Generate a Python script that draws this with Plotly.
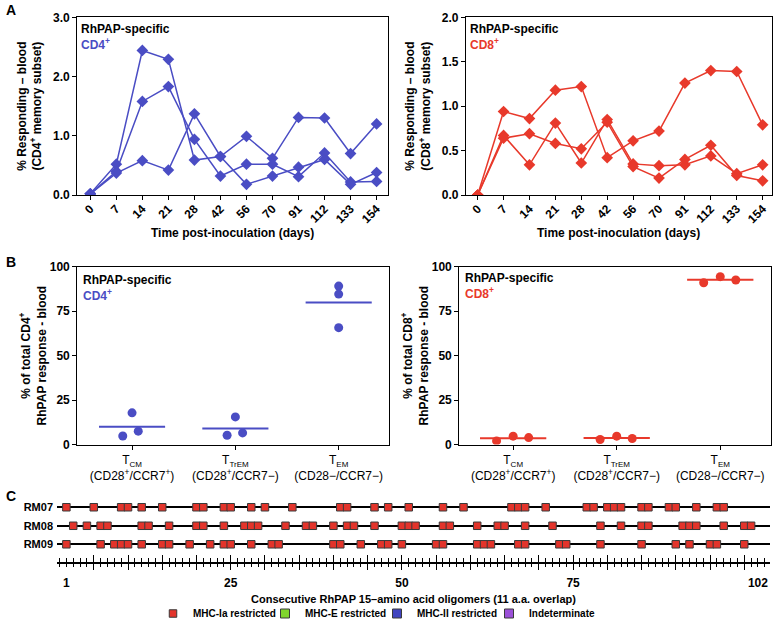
import plotly.graph_objects as go
import numpy as np

# ---------------- data ----------------
days = ["0", "7", "14", "21", "28", "42", "56", "70", "91", "112", "133", "154"]

cd4_s1 = [0.02, 0.52, 2.44, 2.29, 0.59, 0.65, 0.99, 0.62, 1.31, 1.30, 0.70, 1.20]
cd4_s2 = [0.02, 0.40, 1.58, 1.83, 0.94, 0.32, 0.52, 0.52, 0.31, 0.71, 0.22, 0.23]
cd4_s3 = [0.02, 0.37, 0.58, 0.42, 1.37, 0.65, 0.18, 0.32, 0.47, 0.60, 0.18, 0.38]

cd8_s1 = [0.0, 0.94, 0.86, 1.18, 1.22, 0.42, 0.61, 0.72, 1.26, 1.40, 1.39, 0.79]
cd8_s2 = [0.0, 0.67, 0.34, 0.81, 0.36, 0.85, 0.35, 0.33, 0.34, 0.44, 0.24, 0.34]
cd8_s3 = [0.0, 0.64, 0.69, 0.58, 0.52, 0.82, 0.32, 0.19, 0.40, 0.56, 0.22, 0.16]

SUB = "<sub><span style='font-size:8px'>%s</span></sub>"
subsets = ["T" + SUB % "CM" + "<br>(CD28<sup>+</sup>/CCR7<sup>+</sup>)",
           "T" + SUB % "TrEM" + "<br>(CD28<sup>+</sup>/CCR7−)",
           "T" + SUB % "EM" + "<br>(CD28−/CCR7−)"]
cd4_tcm = [17.8, 4.8, 7.5]
cd4_trem = [15.5, 5.2, 6.5]
cd4_tem = [89.1, 84.6, 65.7]
cd8_tcm = [2.0, 4.7, 3.9]
cd8_trem = [2.8, 4.7, 3.4]
cd8_tem = [91.0, 94.4, 92.5]

animals = ["RM07", "RM08", "RM09"]
rm07_peptides = [1, 5, 9, 10, 12, 15, 20, 21, 24, 25, 28, 30, 34, 41, 42, 46, 48, 51,
                 56, 59, 66, 67, 68, 71, 77, 78, 80, 81, 82, 85, 86, 89, 90, 93, 96, 97]
rm08_peptides = [2, 4, 6, 7, 12, 13, 16, 20, 21, 24, 27, 28, 29, 33, 36, 37, 40, 42, 43,
                 46, 50, 51, 52, 56, 57, 61, 64, 65, 68, 72, 79, 82, 85, 86, 91, 92, 93,
                 97, 100, 101]
rm09_peptides = [1, 6, 8, 9, 10, 12, 15, 16, 19, 22, 24, 25, 28, 31, 32, 40, 41, 44, 47,
                 48, 50, 55, 56, 61, 62, 63, 67, 68, 73, 74, 79, 85, 90, 92, 95, 96, 100]
n_peptides = 102
c_tick_labels = [1, 25, 50, 75, 102]
categories_c = ["MHC-Ia restricted", "MHC-E restricted", "MHC-II restricted", "Indeterminate"]

# ---------------- styles ----------------
BLUE = "#4a4dc4"
RED = "#e8392b"
FONT = "Liberation Sans, Arial, sans-serif"
W, H = 777, 622

def px_x(a, b):
    return [a / W, b / W]

def px_y(top, bottom):
    return [(H - bottom) / H, (H - top) / H]

fig = go.Figure()

# ---------------- panel A ----------------
xi = list(range(len(days)))
for s in (cd4_s1, cd4_s2, cd4_s3):
    fig.add_trace(go.Scatter(x=xi, y=s, mode="lines+markers", xaxis="x", yaxis="y",
                             line=dict(color=BLUE, width=1.5),
                             marker=dict(symbol="diamond", size=9, color=BLUE),
                             showlegend=False, hoverinfo="skip"))
for s in (cd8_s1, cd8_s2, cd8_s3):
    fig.add_trace(go.Scatter(x=xi, y=s, mode="lines+markers", xaxis="x2", yaxis="y2",
                             line=dict(color=RED, width=1.5),
                             marker=dict(symbol="diamond", size=9, color=RED),
                             showlegend=False, hoverinfo="skip"))

# ---------------- panel B ----------------
jit4 = [[0.0, -0.09, 0.06], [0.0, -0.08, 0.07], [0.0, 0.0, 0.0]]
jit8 = [[-0.16, 0.0, 0.15], [-0.16, 0.0, 0.15], [-0.16, 0.0, 0.15]]
half = 0.32

def add_b(groups, jit, color, xa, ya):
    xs, ys, lx, ly = [], [], [], []
    for i, g in enumerate(groups):
        for v, j in zip(g, jit[i]):
            xs.append(i + j)
            ys.append(v)
        m = float(np.mean(g))
        lx += [i - half, i + half, None]
        ly += [m, m, None]
    fig.add_trace(go.Scatter(x=lx, y=ly, mode="lines", xaxis=xa, yaxis=ya,
                             line=dict(color=color, width=2), showlegend=False, hoverinfo="skip"))
    fig.add_trace(go.Scatter(x=xs, y=ys, mode="markers", xaxis=xa, yaxis=ya,
                             marker=dict(color=color, size=9), showlegend=False, hoverinfo="skip"))

add_b([cd4_tcm, cd4_trem, cd4_tem], jit4, BLUE, "x3", "y3")
add_b([cd8_tcm, cd8_trem, cd8_tem], jit8, RED, "x4", "y4")

# ---------------- panel C ----------------
cx, cy = [], []
for k, pep in enumerate([rm07_peptides, rm08_peptides, rm09_peptides]):
    row = 3 - k
    cx += pep
    cy += [row] * len(pep)
c_colors = ["#e3342b", "#80d52c", "#4044c0", "#9b50d8"]
fig.add_trace(go.Scatter(x=cx, y=cy, mode="markers", xaxis="x5", yaxis="y5",
                         name=categories_c[0],
                         marker=dict(symbol="square", size=7.5, color=c_colors[0],
                                     line=dict(color="#3a3a3a", width=1)),
                         hoverinfo="skip"))
for name, col in zip(categories_c[1:], c_colors[1:]):
    fig.add_trace(go.Scatter(x=[None], y=[None], mode="markers", xaxis="x5", yaxis="y5",
                             name=name,
                             marker=dict(symbol="square", size=9, color=col,
                                         line=dict(color="#3a3a3a", width=1)),
                             hoverinfo="skip"))
for xa in ("x6", "x7"):
    fig.add_trace(go.Scatter(x=[None], y=[None], mode="markers", xaxis=xa, yaxis="y5",
                             showlegend=False, hoverinfo="skip"))

# ---------------- layout ----------------
tf = dict(family=FONT, size=12, color="black", weight="bold")
box = dict(showline=True, linecolor="black", linewidth=1.3, mirror=True,
           ticks="outside", ticklen=4, tickwidth=1.3, tickcolor="black",
           showgrid=False, zeroline=False, tickfont=tf, automargin=False)

c_range = [-0.37, 103.76]
major = list(range(5, n_peptides, 5))

fig.update_layout(
    width=W, height=H, margin=dict(l=0, r=0, t=0, b=0, autoexpand=False),
    paper_bgcolor="white", plot_bgcolor="white",
    font=dict(family=FONT, color="black"),
    xaxis=dict(domain=px_x(77.3, 388.3), range=[-0.5, 11.45], anchor="y",
               tickmode="array", tickvals=xi, ticktext=days, tickangle=-45,
               ticklabelstandoff=-3, **box),
    yaxis=dict(domain=px_y(17.3, 195), range=[0, 3.0], anchor="x",
               tickmode="array", tickvals=[0, 1, 2, 3], tickformat=".1f",
               title=dict(text="% Responding – blood<br>(CD4<sup>+</sup> memory subset)", font=tf,
                          standoff=8), **box),
    xaxis2=dict(domain=px_x(466, 771.7), range=[-0.45, 11.35], anchor="y2",
                tickmode="array", tickvals=xi, ticktext=days, tickangle=-45,
                ticklabelstandoff=-3, **box),
    yaxis2=dict(domain=px_y(17.3, 195), range=[0, 2.0], anchor="x2",
                tickmode="array", tickvals=[0, 0.5, 1, 1.5, 2], tickformat=".1f",
                title=dict(text="% Responding – blood<br>(CD8<sup>+</sup> memory subset)", font=tf,
                           standoff=8), **box),
    xaxis3=dict(domain=px_x(77.3, 389.3), range=[-0.53, 2.49], anchor="y3",
                tickmode="array", tickvals=[0, 1, 2], ticktext=subsets,
                **{**box, "tickfont": dict(family=FONT, size=12, color="black")}),
    yaxis3=dict(domain=px_y(266.7, 444.5), range=[0, 100], anchor="x3",
                tickmode="array", tickvals=[0, 25, 50, 75, 100],
                title=dict(text="% of total CD4<sup>+</sup><br>RhPAP response - blood", font=tf,
                           standoff=0), **box),
    xaxis4=dict(domain=px_x(459.3, 771), range=[-0.52, 2.49], anchor="y4",
                tickmode="array", tickvals=[0, 1, 2], ticktext=subsets,
                **{**box, "tickfont": dict(family=FONT, size=12, color="black")}),
    yaxis4=dict(domain=px_y(266.7, 444.5), range=[0, 100], anchor="x4",
                tickmode="array", tickvals=[0, 25, 50, 75, 100],
                title=dict(text="% of total CD8<sup>+</sup><br>RhPAP response - blood", font=tf,
                           standoff=0), **box),
    xaxis5=dict(domain=px_x(57, 770), range=c_range, anchor="y5", automargin=False,
                showline=True, linecolor="black", linewidth=1.5,
                tickmode="array", tickvals=major, ticks="outside", ticklen=7, tickwidth=1.2,
                tickcolor="black", showticklabels=False, showgrid=False, zeroline=False,
                minor=dict(ticks="outside", tickmode="linear", tick0=0, dtick=1, ticklen=3.5,
                           tickwidth=1, tickcolor="black", showgrid=False)),
    xaxis6=dict(overlaying="x5", range=c_range, anchor="y5", automargin=False,
                showline=False, tickmode="array", tickvals=major, ticks="inside", ticklen=7,
                tickwidth=1.2, tickcolor="black", showticklabels=False, showgrid=False,
                zeroline=False,
                minor=dict(ticks="inside", tickmode="linear", tick0=0, dtick=1, ticklen=3.5,
                           tickwidth=1, tickcolor="black", showgrid=False)),
    xaxis7=dict(overlaying="x5", range=c_range, anchor="y5", automargin=False,
                showline=False, tickmode="array", tickvals=c_tick_labels, ticks="outside",
                ticklen=10, tickcolor="rgba(0,0,0,0)", showgrid=False, zeroline=False,
                tickfont=tf,
                title=dict(text="Consecutive RhPAP 15–amino acid oligomers (11 a.a. overlap)",
                           font=dict(family=FONT, size=11, color="black", weight="bold"),
                           standoff=6)),
    yaxis5=dict(domain=px_y(498, 561.7), range=[0.06, 3.5], anchor="x5", automargin=False,
                tickmode="array", tickvals=[3, 2, 1], ticktext=animals,
                showgrid=True, gridcolor="black", gridwidth=1.5, zeroline=False,
                showline=False, ticks="", ticklabelstandoff=3,
                tickfont=dict(family=FONT, size=11, color="black", weight="bold")),
    legend=dict(orientation="h", x=377 / W, xanchor="center", y=(H - 599) / H, yanchor="top",
                font=dict(family=FONT, size=10, color="black", weight="bold"),
                itemwidth=30, entrywidth=67, entrywidthmode="pixels",
                tracegroupgap=0, bgcolor="rgba(0,0,0,0)"),
)

ann_font = dict(family=FONT, size=12, color="black", weight="bold")

def label(text, xref, yref, x, y, xanchor="left", yanchor="middle"):
    fig.add_annotation(text=text, xref=xref, yref=yref, x=x, y=y, showarrow=False,
                       xanchor=xanchor, yanchor=yanchor, align="left", font=ann_font)

def header(cell, color, xref, yref, x, y):
    label("RhPAP-specific<br><span style='color:%s'>%s<sup>+</sup></span>" % (color, cell),
          xref, yref, x, y, yanchor="top")

header("CD4", BLUE, "x domain", "y domain", 0.006, 0.985)
header("CD8", RED, "x2 domain", "y2 domain", 0.008, 0.985)
header("CD4", BLUE, "x3 domain", "y3 domain", 0.011, 0.975)
header("CD8", RED, "x4 domain", "y4 domain", 0.011, 0.985)
label("Time post-inoculation (days)", "x domain", "paper", 0.5, (H - 233) / H, xanchor="center")
label("Time post-inoculation (days)", "x2 domain", "paper", 0.5, (H - 233) / H, xanchor="center")

for t, yy in (("A", 10), ("B", 262), ("C", 496)):
    fig.add_annotation(text=t, xref="paper", yref="paper", x=4 / W, y=(H - yy) / H,
                       showarrow=False, xanchor="left", yanchor="middle",
                       font=dict(family=FONT, size=14, color="black", weight="bold"))

fig.write_html("out.html", config={"displayModeBar": False},
               post_script="document.body.style.margin='0';document.body.style.overflow='hidden';")
